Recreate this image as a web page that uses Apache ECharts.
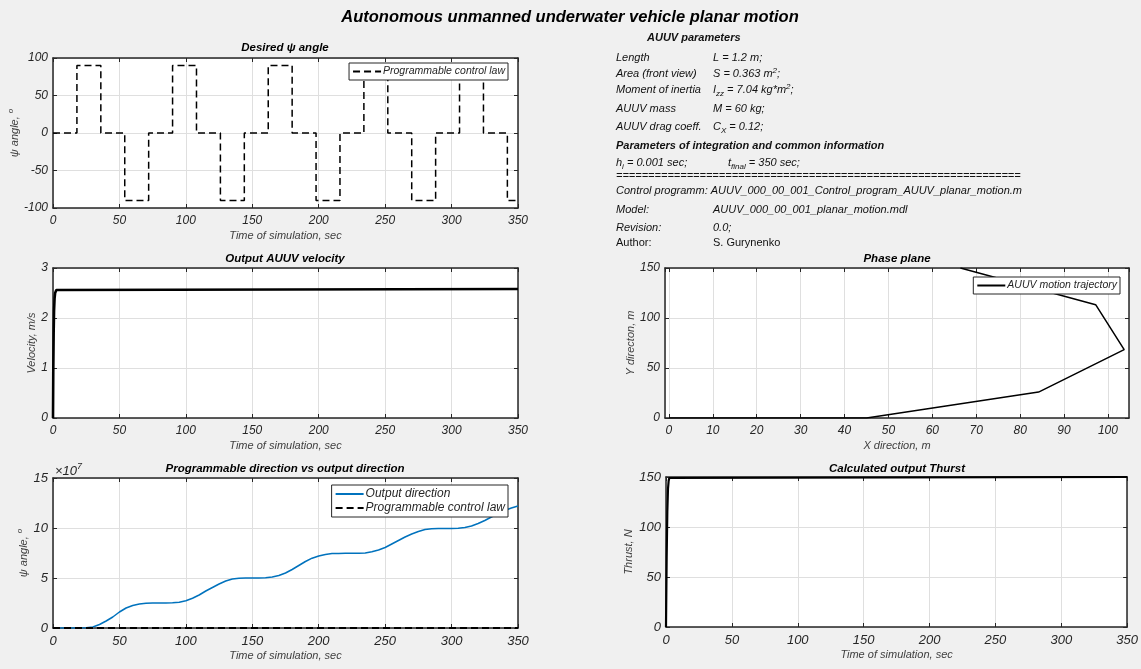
<!DOCTYPE html>
<html>
<head>
<meta charset="utf-8">
<script src="https://cdn.jsdelivr.net/npm/echarts@6/dist/echarts.min.js"></script>
<style>
  html, body { margin: 0; padding: 0; background: #f0f0f0; }
  #chart { width: 1141px; height: 669px; }
</style>
</head>
<body>
<div id="chart"></div>
<script>
// ---- data ----
// Time axis ticks (sec)
const timeTicks = [0, 50, 100, 150, 200, 250, 300, 350];
// Desired psi program: switching instants (sec) and commanded level (deg) held after each instant
const psiSwitchTimes = [0, 18, 36, 54, 72, 90, 108, 126, 144, 162, 180, 198, 216, 234, 252, 270, 288, 306, 324, 342, 350];
const psiLevels      = [0, 90, 0, -90, 0, 90, 0, -90, 0, 90, 0, -90, 0, 90, 0, -90, 0, 90, 0, -90, -90];
const psiTicks = [-100, -50, 0, 50, 100];

// Output velocity (m/s)
const velTime  = [0, 0.2, 0.5, 0.8, 1.2, 1.6, 2.0, 2.5, 3.0, 4.0, 350];
const velValue = [0, 0.9, 1.7, 2.15, 2.4, 2.5, 2.54, 2.56, 2.57, 2.58, 2.58];
const velTicks = [0, 1, 2, 3];

// Output direction (x 10^7 deg)
const dirTime = [0, 5, 10, 15, 20, 25, 30, 35, 40, 45, 50, 55, 60, 65, 70, 75, 80, 85, 90, 95,
  100, 105, 110, 115, 120, 125, 130, 135, 140, 145, 150, 155, 160, 165, 170, 175, 180, 185, 190, 195,
  200, 205, 210, 215, 220, 225, 230, 235, 240, 245, 250, 255, 260, 265, 270, 275, 280, 285, 290, 295,
  300, 305, 310, 315, 320, 325, 330, 335, 340, 345, 350];
const dirValue = [0, 0, 0, 0, 0, 0.02, 0.1, 0.35, 0.7, 1.1, 1.6, 2.0, 2.25, 2.4, 2.48, 2.5, 2.5, 2.5, 2.52, 2.58,
  2.72, 2.98, 3.3, 3.7, 4.05, 4.4, 4.7, 4.9, 4.98, 5.0, 5.0, 5.0, 5.02, 5.1, 5.25, 5.5, 5.85, 6.25, 6.65, 6.98,
  7.2, 7.36, 7.44, 7.46, 7.47, 7.47, 7.48, 7.5, 7.62, 7.8, 8.05, 8.4, 8.75, 9.1, 9.4, 9.65, 9.85, 9.93, 9.95, 9.96,
  9.96, 9.98, 10.05, 10.2, 10.45, 10.75, 11.1, 11.45, 11.75, 12.0, 12.2];
const dirTicks = [0, 5, 10, 15];
const dirScaleExp = 7;

// Phase plane trajectory (m)
const trajX = [0, 45, 84.2, 103.7, 97.2, 66.4];
const trajY = [0, 0, 25.9, 68.3, 113.3, 150];
const trajXRange = [-0.9, 104.8];
const trajYTicks = [0, 50, 100, 150];

// Calculated thrust (N)
const thrustTime  = [0, 0.5, 1.0, 1.5, 2.0, 2.5, 3.0, 350];
const thrustValue = [0, 70, 115, 138, 146, 149, 150, 150];
const thrustTicks = [0, 50, 100, 150];

// ---- styling helpers ----
const FONT = '"Liberation Sans", Arial, Helvetica, sans-serif';
const INK = '#262626';
const GRIDLINE = '#DFDFDF';
const DASH = [7, 4];

const grids = [
  { left: 53,  top: 58,  width: 465, height: 150 },  // desired psi
  { left: 53,  top: 268, width: 465, height: 150 },  // velocity
  { left: 53,  top: 478, width: 465, height: 150 },  // direction
  { left: 665, top: 268, width: 464, height: 150 },  // phase plane
  { left: 666, top: 477, width: 462, height: 150 }   // thrust
].map(g => Object.assign({ show: true, backgroundColor: '#ffffff', borderWidth: 0, containLabel: false }, g));

const axisLine = { show: true, onZero: false, lineStyle: { color: INK, width: 1.5 } };
const axisTick = { show: true, inside: true, length: 4, lineStyle: { color: INK, width: 1 } };

function range(ticks) {
  return { min: ticks[0], max: ticks[ticks.length - 1], interval: ticks[1] - ticks[0] };
}

function xPair(gi, r, o) {
  const base = Object.assign({ type: 'value', gridIndex: gi }, r);
  return [
    Object.assign({}, base, {
      position: 'bottom',
      name: o.name, nameLocation: 'middle', nameGap: 22,
      nameTextStyle: { color: '#404040', fontSize: 11, fontStyle: 'italic', fontFamily: FONT },
      axisLine, axisTick,
      axisLabel: Object.assign({ margin: 7, color: INK, fontSize: o.fs, fontStyle: 'italic', fontFamily: FONT }, o.label || {}),
      splitLine: { show: true, lineStyle: { color: GRIDLINE, width: 1 } }
    }),
    Object.assign({}, base, {
      position: 'top', axisLine, axisTick,
      axisLabel: { show: false }, splitLine: { show: false }
    })
  ];
}

function yPair(gi, r, o) {
  const base = Object.assign({ type: 'value', gridIndex: gi }, r);
  return [
    Object.assign({}, base, {
      position: 'left',
      name: o.name, nameLocation: 'middle', nameGap: o.gap, nameRotate: 90,
      nameTextStyle: Object.assign({ color: '#404040', fontSize: 11, fontStyle: 'italic', fontFamily: FONT },
        o.rich ? { rich: o.rich } : {}),
      axisLine, axisTick,
      axisLabel: { margin: 5, color: INK, fontSize: o.fs, fontStyle: 'italic', fontFamily: FONT },
      splitLine: { show: true, lineStyle: { color: GRIDLINE, width: 1 } }
    }),
    Object.assign({}, base, {
      position: 'right', axisLine, axisTick,
      axisLabel: { show: false }, splitLine: { show: false }
    })
  ];
}

const degRich = {
  t: { fontSize: 11, fontStyle: 'italic', fontFamily: FONT, color: '#404040' },
  s: { fontSize: 8, fontStyle: 'italic', fontFamily: FONT, color: '#404040', padding: [0, 0, 7, 0] }
};

const xAxis = [].concat(
  xPair(0, range(timeTicks), { name: 'Time of simulation, sec', fs: 12 }),
  xPair(1, range(timeTicks), { name: 'Time of simulation, sec', fs: 12 }),
  xPair(2, range(timeTicks), { name: 'Time of simulation, sec', fs: 13 }),
  xPair(3, { min: trajXRange[0], max: trajXRange[1], splitNumber: 10 },
        { name: 'X direction, m', fs: 12, label: { showMinLabel: false, showMaxLabel: false } }),
  xPair(4, range(timeTicks), { name: 'Time of simulation, sec', fs: 13 })
);

const yAxis = [].concat(
  yPair(0, range(psiTicks), { name: '{t|ψ angle, }{s|o}', gap: 29, fs: 12, rich: degRich }),
  yPair(1, range(velTicks), { name: 'Velocity, m/s', gap: 13, fs: 12 }),
  yPair(2, range(dirTicks), { name: '{t|ψ angle, }{s|o}', gap: 22, fs: 13, rich: degRich }),
  yPair(3, range(trajYTicks), { name: 'Y directon, m', gap: 27, fs: 12 }),
  yPair(4, range(thrustTicks), { name: 'Thrust, N', gap: 32, fs: 13 })
);

const zip = (a, b) => a.map((v, i) => [v, b[i]]);
const psiData = zip(psiSwitchTimes, psiLevels);
const psiScaled = zip(psiSwitchTimes, psiLevels.map(v => v / Math.pow(10, dirScaleExp)));

const series = [
  { name: 'Programmable control law', type: 'line', xAxisIndex: 0, yAxisIndex: 0,
    data: psiData, step: 'end', symbol: 'none', lineStyle: { color: '#000', width: 1.5, type: DASH },
    itemStyle: { color: '#000' } },
  { name: 'Output velocity', type: 'line', xAxisIndex: 2, yAxisIndex: 2,
    data: zip(velTime, velValue), symbol: 'none', lineStyle: { color: '#000', width: 2.6 },
    itemStyle: { color: '#000' } },
  { name: 'Output direction', type: 'line', xAxisIndex: 4, yAxisIndex: 4,
    data: zip(dirTime, dirValue), symbol: 'none', lineStyle: { color: '#0072BD', width: 1.5 },
    itemStyle: { color: '#0072BD' } },
  { name: 'Programmable control law', type: 'line', xAxisIndex: 4, yAxisIndex: 4,
    data: psiScaled, step: 'end', symbol: 'none', lineStyle: { color: '#000', width: 2, type: DASH },
    itemStyle: { color: '#000' } },
  { name: 'AUUV motion trajectory', type: 'line', xAxisIndex: 6, yAxisIndex: 6,
    data: zip(trajX, trajY), symbol: 'none', lineStyle: { color: '#000', width: 1.5 },
    itemStyle: { color: '#000' } },
  { name: 'Calculated thrust', type: 'line', xAxisIndex: 8, yAxisIndex: 8,
    data: zip(thrustTime, thrustValue), symbol: 'none', lineStyle: { color: '#000', width: 2.2 },
    itemStyle: { color: '#000' } }
];

// legend boxes are anchored by their right edge (distance from the canvas' right side)
function legendBox(names, right, top, fs, gap) {
  return {
    data: names, right, top, orient: 'vertical', selectedMode: false,
    backgroundColor: '#ffffff', borderColor: INK, borderWidth: 1, borderRadius: 0,
    padding: [3, 3, 3, 3], itemWidth: 28, itemHeight: 10, itemGap: gap,
    itemStyle: { opacity: 0 },
    textStyle: { fontSize: fs, fontStyle: 'italic', color: INK, fontFamily: FONT, padding: [0, 0, 0, -3] }
  };
}

const legend = [
  legendBox(['Programmable control law'], 633, 63, 10.5, 2),
  legendBox(['AUUV motion trajectory'], 21, 277, 10.5, 2),
  legendBox(['Output direction', 'Programmable control law'], 633, 485, 12, 2)
];

function subTitle(text, cx, top) {
  return { text, left: cx, top, textAlign: 'center', padding: 0,
    textStyle: { fontSize: 11.5, fontWeight: 'bold', fontStyle: 'italic', color: '#000', fontFamily: FONT } };
}

const title = [
  { text: 'Autonomous unmanned underwater vehicle planar motion', left: 570, top: 9, textAlign: 'center', padding: 0,
    textStyle: { fontSize: 16.5, fontWeight: 'bold', fontStyle: 'italic', color: '#000', fontFamily: FONT } },
  subTitle('Desired ψ angle', 285, 42),
  subTitle('Output AUUV velocity', 285, 253),
  subTitle('Programmable direction vs output direction', 285, 463),
  subTitle('Phase plane', 897, 253),
  subTitle('Calculated output Thurst', 897, 463)
];

// ---- parameter panel text ----
const rich = {
  sub: { fontSize: 8, fontStyle: 'italic', fontFamily: FONT, fill: '#111', padding: [7, 0, 0, 0] },
  sup: { fontSize: 8, fontStyle: 'italic', fontFamily: FONT, fill: '#111', padding: [0, 0, 7, 0] }
};
function label(x, y, text, weight, style) {
  const font = (style || 'italic') + ' ' + (weight || 'normal') + ' 11px ' + FONT;
  return { type: 'text', x, y, silent: true,
    style: { text, font, fill: '#111', textVerticalAlign: 'middle', verticalAlign: 'middle', rich } };
}
const COL1 = 616, COL2 = 713;
const panelRows = [
  [58,  'Length', 'L = 1.2 m;'],
  [74,  'Area (front view)', 'S = 0.363 m{sup|2};'],
  [90,  'Moment of inertia', 'I{sub|zz} = 7.04 kg*m{sup|2};'],
  [109, 'AUUV mass', 'M = 60 kg;'],
  [127, 'AUUV drag coeff.', 'C{sub|X} = 0.12;']
];
const graphic = [
  label(647, 38, 'AUUV parameters', 'bold'),
  label(COL1, 146, 'Parameters of integration and common information', 'bold'),
  label(COL1, 163, 'h{sub|i} = 0.001 sec;'),
  label(728, 163, 't{sub|final} = 350 sec;'),
  label(COL1, 176, '==============================================================='),
  label(COL1, 191, 'Control programm: AUUV_000_00_001_Control_program_AUUV_planar_motion.m'),
  label(COL1, 210, 'Model:'),
  label(COL2, 210, 'AUUV_000_00_001_planar_motion.mdl'),
  label(COL1, 228, 'Revision:'),
  label(COL2, 228, '0.0;'),
  label(COL1, 243, 'Author:', 'normal', 'normal'),
  label(COL2, 243, 'S. Gurynenko', 'normal', 'normal'),
  // exponent marker of the direction axis
  { type: 'text', x: 55, y: 471, silent: true,
    style: { text: '×10{e|' + dirScaleExp + '}', font: 'italic 13px ' + FONT, fill: INK,
      textVerticalAlign: 'middle', verticalAlign: 'middle',
      rich: { e: { fontSize: 9, fontStyle: 'italic', fontFamily: FONT, fill: INK, padding: [0, 0, 9, 0] } } } }
];
panelRows.forEach(r => {
  graphic.push(label(COL1, r[0], r[1]));
  graphic.push(label(COL2, r[0], r[2]));
});

const chart = echarts.init(document.getElementById('chart'), null, { renderer: 'canvas' });
chart.setOption({
  backgroundColor: '#f0f0f0',
  animation: false,
  title, grid: grids, xAxis, yAxis, series, legend, graphic
});
</script>
</body>
</html>
